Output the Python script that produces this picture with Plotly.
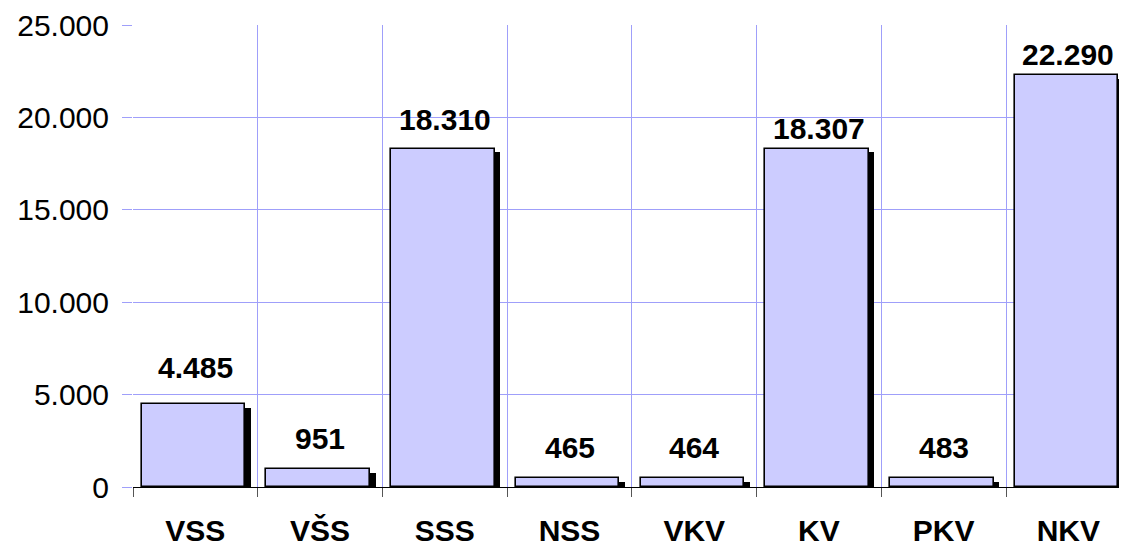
import plotly.graph_objects as go

categories = ["VSS", "VŠS", "SSS", "NSS", "VKV", "KV", "PKV", "NKV"]
values = [4485, 951, 18310, 465, 464, 18307, 483, 22290]
y_ticks = [0, 5000, 10000, 15000, 20000, 25000]
y_tick_labels = ["0", "5.000", "10.000", "15.000", "20.000", "25.000"]

# style: per-label vertical offsets (px) as placed in the original
label_shift = [18, 12, 11, 12, 12, 2, 12, 2]

FONT = "Liberation Sans, Arial, sans-serif"
GRID = "#9F9FFA"
BAR_W = 0.83
BAR_OFF = -0.43
SHADOW_DX = 0.045
SHADOW_DY = 190

fig = go.Figure()
fig.add_trace(go.Bar(
    x=categories, y=[v - SHADOW_DY for v in values],
    width=BAR_W, offset=BAR_OFF + SHADOW_DX,
    marker=dict(color="black", line=dict(width=0)),
    hoverinfo="skip", showlegend=False,
))
fig.add_trace(go.Bar(
    x=categories, y=values,
    width=BAR_W, offset=BAR_OFF,
    marker=dict(color="#CCCCFF", line=dict(color="black", width=1.6)),
    showlegend=False,
))

for c, v, s in zip(categories, values, label_shift):
    fig.add_annotation(
        x=c, y=v, text=f"{v:,}".replace(",", "."), showarrow=False,
        yanchor="bottom", yshift=s,
        font=dict(family=FONT, size=30, color="black", weight="bold"),
    )

fig.update_layout(
    width=1119, height=539,
    margin=dict(l=125, r=0, t=17, b=60),
    paper_bgcolor="white", plot_bgcolor="white",
    barmode="overlay", bargap=0,
    font=dict(family=FONT, size=30, color="black"),
)
fig.update_xaxes(
    type="category", range=[-0.5, 7.47],
    tickson="boundaries", ticks="outside", ticklen=9, tickwidth=1, tickcolor="#555555",
    showgrid=True, gridcolor=GRID, gridwidth=1,
    showline=True, linecolor="black", linewidth=1,
    tickfont=dict(family=FONT, size=30, color="black", weight="bold"),
    ticklabelstandoff=17,
    automargin=False,
)
fig.update_yaxes(
    range=[0, 25000], tickvals=y_ticks, ticktext=y_tick_labels,
    ticks="outside", ticklen=10, tickcolor=GRID,
    showgrid=True, gridcolor=GRID, gridwidth=1, zeroline=False,
    showline=False,
    tickfont=dict(family=FONT, size=30, color="black"),
    ticklabelstandoff=7,
    automargin=False,
)

fig.write_html("out.html")
